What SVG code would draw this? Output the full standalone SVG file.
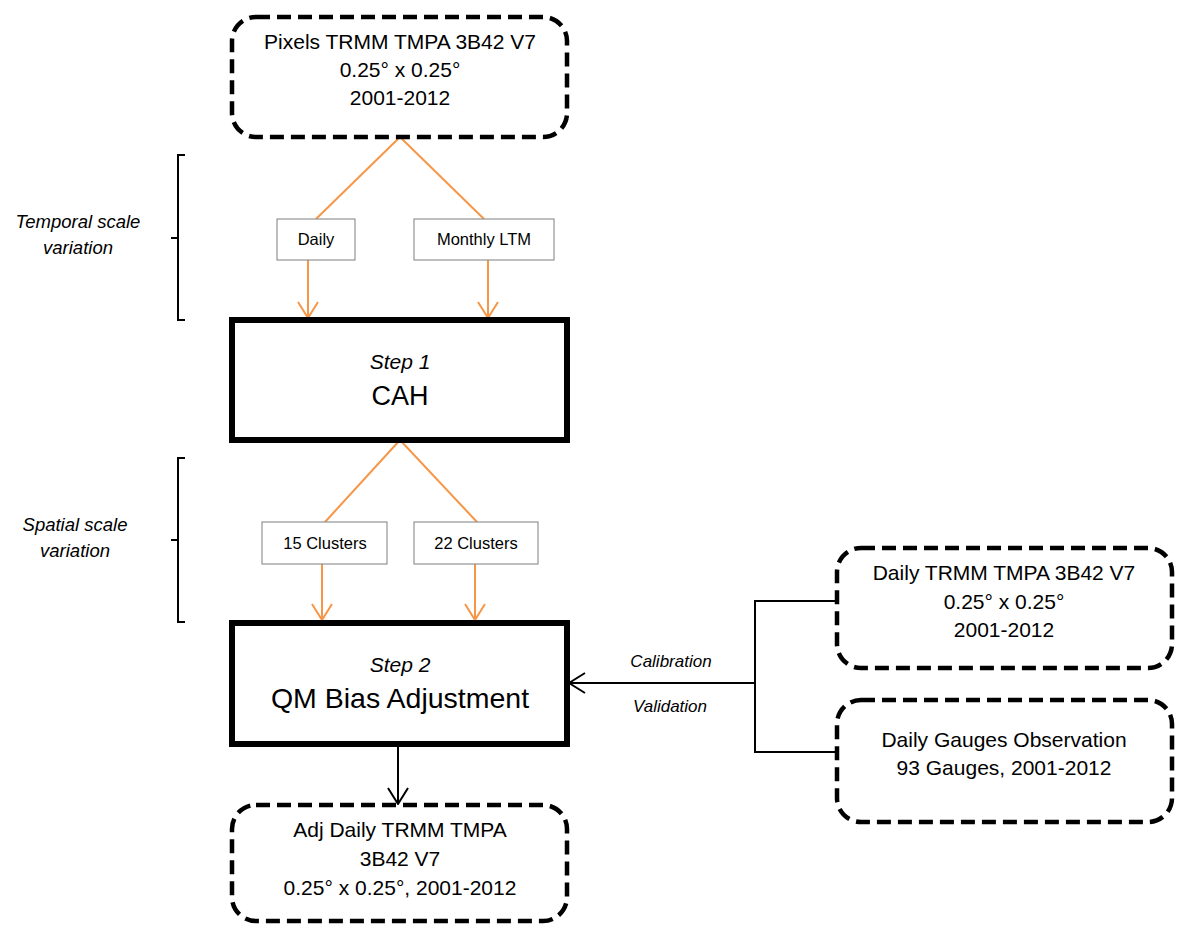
<svg xmlns="http://www.w3.org/2000/svg" width="1187" height="927" viewBox="0 0 1187 927">
<style>
  text { font-family: "Liberation Sans", Arial, sans-serif; fill: #000; text-anchor: middle; }
  .dash { fill: #fff; stroke: #000; stroke-width: 4.5; stroke-dasharray: 14 7; }
  .step { fill: #fff; stroke: #000; stroke-width: 6; }
  .small { fill: #fff; stroke: #7f7f7f; stroke-width: 1; }
  .orange { stroke: #f79646; stroke-width: 2; fill: none; }
  .black { stroke: #000; stroke-width: 2; fill: none; }
  .t21 { font-size: 21px; }
  .t16 { font-size: 16.5px; }
  .side { font-size: 18.5px; font-style: italic; }
  .lab { font-size: 17px; font-style: italic; }
</style>
<defs>
  <marker id="ao" viewBox="0 0 20 22" refX="19" refY="11" markerWidth="20" markerHeight="22" markerUnits="userSpaceOnUse" orient="auto">
    <path d="M3 1 L19 11 L3 21" fill="none" stroke="#f79646" stroke-width="2"/>
  </marker>
  <marker id="ab" viewBox="0 0 20 22" refX="19" refY="11" markerWidth="20" markerHeight="22" markerUnits="userSpaceOnUse" orient="auto">
    <path d="M3 1 L19 11 L3 21" fill="none" stroke="#000" stroke-width="2"/>
  </marker>
</defs>

<g id="connectors">
  <path class="orange" d="M400 137 L316 219"/>
  <path class="orange" d="M400 137 L484 219"/>
  <path class="orange" d="M308 260 L308 318" marker-end="url(#ao)"/>
  <path class="orange" d="M488 260 L488 318" marker-end="url(#ao)"/>
  <path class="orange" d="M400 440 L325 522"/>
  <path class="orange" d="M400 440 L477 522"/>
  <path class="orange" d="M322 564 L322 620" marker-end="url(#ao)"/>
  <path class="orange" d="M475 564 L475 620" marker-end="url(#ao)"/>
  <path class="black" d="M398 744 L398 804" marker-end="url(#ab)"/>
  <path class="black" d="M837 601 L755 601 L755 752 L837 752"/>
  <path class="black" d="M755 683 L569 683" marker-end="url(#ab)"/>
</g>

<g id="brackets">
  <path class="black" d="M185 155 L178 155 L178 320 L185 320 M178 238 L171 238"/>
  <path class="black" d="M185 458 L178 458 L178 622 L185 622 M178 540 L171 540"/>
</g>

<g id="label-temporal">
  <text class="side" x="78" y="228">Temporal scale</text>
  <text class="side" x="78" y="254">variation</text>
</g>
<g id="label-spatial">
  <text class="side" x="75" y="531">Spatial scale</text>
  <text class="side" x="75" y="557">variation</text>
</g>

<g id="node-pixels">
  <rect class="dash" x="232" y="17" width="335" height="120" rx="24"/>
  <text class="t21" x="400" y="49">Pixels TRMM TMPA 3B42 V7</text>
  <text class="t21" x="400" y="77">0.25° x 0.25°</text>
  <text class="t21" x="400" y="105">2001-2012</text>
</g>

<g id="node-daily">
  <rect class="small" x="277" y="219" width="78" height="41"/>
  <text class="t16" x="316" y="245">Daily</text>
</g>
<g id="node-monthly">
  <rect class="small" x="414" y="219" width="140" height="41"/>
  <text class="t16" x="484" y="245">Monthly LTM</text>
</g>

<g id="node-step1">
  <rect class="step" x="232" y="320" width="335" height="120"/>
  <text x="400" y="369" style="font-size:21px;font-style:italic">Step 1</text>
  <text x="400" y="405" style="font-size:27px">CAH</text>
</g>

<g id="node-15clusters">
  <rect class="small" x="262" y="522" width="125" height="42"/>
  <text class="t16" x="325" y="549">15 Clusters</text>
</g>
<g id="node-22clusters">
  <rect class="small" x="414" y="522" width="124" height="42"/>
  <text class="t16" x="476" y="549">22 Clusters</text>
</g>

<g id="node-step2">
  <rect class="step" x="232" y="623" width="335" height="121"/>
  <text x="400" y="672" style="font-size:21px;font-style:italic">Step 2</text>
  <text x="400" y="708" style="font-size:28.5px">QM Bias Adjustment</text>
</g>

<g id="node-adj">
  <rect class="dash" x="232" y="805" width="335" height="116" rx="24"/>
  <text class="t21" x="400" y="837">Adj Daily TRMM TMPA</text>
  <text class="t21" x="400" y="866">3B42 V7</text>
  <text class="t21" x="400" y="895">0.25° x 0.25°, 2001-2012</text>
</g>

<g id="node-daily-trmm">
  <rect class="dash" x="837" y="548" width="335" height="120" rx="24"/>
  <text class="t21" x="1004" y="580">Daily TRMM TMPA 3B42 V7</text>
  <text class="t21" x="1004" y="609">0.25° x 0.25°</text>
  <text class="t21" x="1004" y="637">2001-2012</text>
</g>

<g id="node-gauges">
  <rect class="dash" x="837" y="700" width="335" height="122" rx="24"/>
  <text class="t21" x="1004" y="747">Daily Gauges Observation</text>
  <text class="t21" x="1004" y="775">93 Gauges, 2001-2012</text>
</g>

<g id="edge-labels">
  <text class="lab" x="671" y="667">Calibration</text>
  <text class="lab" x="670" y="712">Validation</text>
</g>
</svg>
